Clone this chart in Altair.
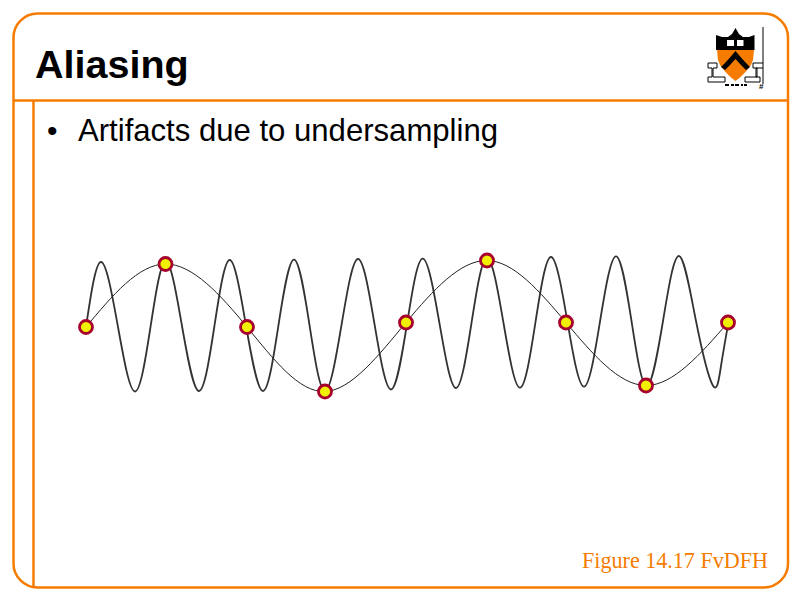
import altair as alt
import pandas as pd

ORANGE = "#F57C00"

# slow (alias) curve: sample points
sample_x = [86, 165.5, 247, 325, 406, 487, 566, 646, 728]
sample_y = [327, 264, 327, 391.5, 322.5, 260.5, 322.5, 385.5, 322.5]

# fast signal: peaks, troughs and mid crossings
wave_x = [86, 101, 118, 135, 150.5, 165.7, 182, 199, 214.5, 229.7, 246, 263, 278.5, 294, 309.5,
          325, 341.5, 358, 374.5, 391, 407, 422.7, 439.5, 456, 471.5, 487, 503.5, 520, 535.5,
          551, 567.5, 584, 600, 616, 631.5, 646.7, 663, 679, 696, 713, 721, 728]
wave_y = [327, 262, 327, 391.5, 327, 261.5, 326, 391, 325.5, 260, 325.5, 391, 325, 259.7, 325,
          391, 325, 259, 324, 389.5, 324, 258.7, 323.5, 388, 323, 258, 323, 387.7, 322,
          257, 322, 386.7, 321.5, 256.3, 321, 386, 321, 256, 321, 385.7, 366, 325]

# shield
shield_x = [717, 718, 720, 723, 726, 731, 735.5, 740, 745, 748, 751, 753, 754]
shield_top = [50] * 13
shield_bot = [50, 60, 65, 69, 72.5, 77.5, 81, 77.5, 72.5, 69, 65, 60, 50]
band_x = [716, 716, 722, 728, 732, 735.5, 739, 743, 749, 754.5, 754.5]
band_top = [50, 35, 37, 37, 34, 28, 34, 37, 37, 35, 50]
band_bot = [50] * 11
chev_x = [721, 725, 730, 735.5, 741, 746, 750]
chev_top = [67, 63, 57.5, 51, 57.5, 63, 67]
chev_bot = [67, 70, 65, 59, 65, 70, 67]
# open book on the band
book_x = [727, 737]
book_x2 = [734, 743.5]
book_y = [40, 40]
book_y2 = [46, 46]
# outlines of the two side figures and the motto strokes
fig_x = [708, 717, 717, 713, 713, 725, 725, 708, 708, 712, 712, 708, 708,
         763, 753, 753, 757, 757, 745, 745, 760, 760, 756, 756, 763]
fig_y = [63, 63, 68, 68, 77, 77, 82, 82, 77, 77, 68, 68, 63,
         63, 63, 68, 68, 77, 77, 82, 82, 77, 77, 68, 68]
fig_g = [0] * 13 + [1] * 12
motto_x = [725, 731, 735, 741, 744]
motto_x2 = [729, 734, 739, 743, 747]
motto_y = [85, 85, 85, 85, 85]

x = alt.X("x:Q", scale=alt.Scale(domain=[8, 792], range=[0, 784]), axis=None)
y = alt.Y("y:Q", scale=alt.Scale(domain=[8, 592], range=[0, 584]), axis=None)
x2 = alt.X2("x2:Q")
y2 = alt.Y2("y2:Q")


def df(**k):
    return pd.DataFrame(k)


frame = alt.Chart(df(x=[13.5], x2=[788], y=[13.5], y2=[587.5])).mark_rect(
    filled=False, stroke=ORANGE, strokeWidth=2.5, cornerRadius=24
).encode(x=x, x2=x2, y=y, y2=y2)
rules = alt.Chart(df(x=[13.5, 33.5], x2=[788, 33.5], y=[100.5, 100.5], y2=[100.5, 587.5])).mark_rule(
    stroke=ORANGE, strokeWidth=2.5
).encode(x=x, x2=x2, y=y, y2=y2)

wave = alt.Chart(df(x=wave_x, y=wave_y, o=range(len(wave_x)))).mark_line(
    color="#333333", strokeWidth=1.8, interpolate="natural"
).encode(x=x, y=y, order="o:Q")
slow = alt.Chart(df(x=sample_x, y=sample_y, o=range(len(sample_x)))).mark_line(
    color="#222222", strokeWidth=1, interpolate="natural"
).encode(x=x, y=y, order="o:Q")
pts = alt.Chart(df(x=sample_x, y=sample_y)).mark_point(
    filled=True, shape="circle", fill="#F0F000", stroke="#A8002C", strokeWidth=2.8, size=170, opacity=1
).encode(x=x, y=y)


def text(s, px, py, size, font, color="black", weight="normal"):
    return alt.Chart(df(x=[px], y=[py], t=[s])).mark_text(
        align="left", baseline="alphabetic", font=font, fontSize=size, color=color, fontWeight=weight
    ).encode(x=x, y=y, text="t:N")


title = text("Aliasing", 35, 78, 39.5, "Liberation Sans", weight="bold")
bullet = text("•", 47, 141, 30, "Liberation Sans")
body = text("Artifacts due to undersampling", 78, 141, 31.1, "Liberation Sans")
credit = text("Figure 14.17 FvDFH", 582, 568, 22.1, "Liberation Serif", color=ORANGE)
hash_mark = text("#", 759, 89, 8, "Liberation Sans", weight="bold")


def area(xs, top, bot, color):
    return alt.Chart(df(x=xs, y=top, y2=bot)).mark_area(color=color, opacity=1).encode(x=x, y=y, y2=y2)


logo = [
    area(shield_x, shield_top, shield_bot, ORANGE),
    area(band_x, band_top, band_bot, "black"),
    area(chev_x, chev_top, chev_bot, "black"),
]
book = alt.Chart(df(x=book_x, x2=book_x2, y=book_y, y2=book_y2)).mark_rect(color="white").encode(
    x=x, x2=x2, y=y, y2=y2
)
figures = alt.Chart(df(x=fig_x, y=fig_y, g=fig_g, o=range(len(fig_x)))).mark_line(
    color="black", strokeWidth=1
).encode(x=x, y=y, detail="g:N", order="o:Q")
motto = alt.Chart(df(x=motto_x, x2=motto_x2, y=motto_y)).mark_rule(color="black", strokeWidth=2).encode(
    x=x, x2=x2, y=y
)
logo_rule = alt.Chart(df(x=[763], y=[27], y2=[84])).mark_rule(color="black", strokeWidth=1).encode(
    x=x, y=y, y2=y2
)

chart = alt.layer(
    frame, rules, wave, slow, pts, title, bullet, body, credit, *logo, book, figures, motto, logo_rule, hash_mark
).properties(
    width=784, height=584, padding=0, autosize=alt.AutoSizeParams(type="none")
).configure_view(stroke=None)

chart.save("out.html", embed_options={"renderer": "svg", "actions": False})
